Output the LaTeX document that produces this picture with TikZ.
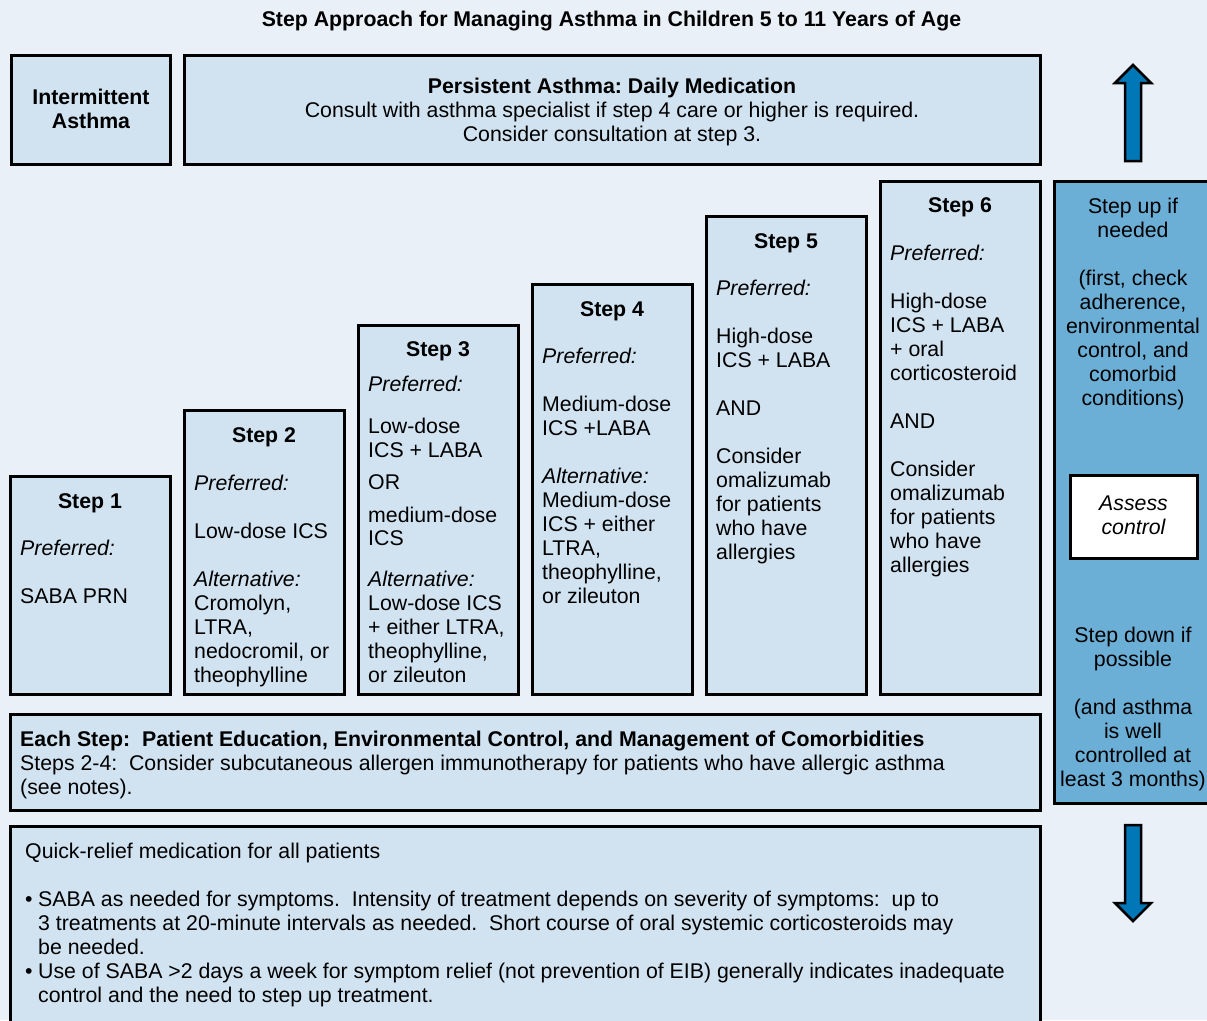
\documentclass[tikz,border=0pt]{standalone}
\usepackage{fontspec}
\setmainfont{Liberation Sans}
\frenchspacing

\definecolor{pagebg}{RGB}{233,240,248}
\definecolor{panelfill}{RGB}{209,227,241}
\definecolor{sidefill}{RGB}{107,174,214}
\definecolor{arrowfill}{RGB}{0,119,182}

% rectangle node from its corner coordinates: name, x1, y1, x2, y2, style
\newcommand\panel[6]{%
  \node[#6, minimum width={#4-#2}, minimum height={#5-#3}] (#1)
    at ({(#2+#4)/2},{(#3+#5)/2}) {};}
% left-aligned lines: name prefix, x, list of baseline/text
\newcommand\leftlines[3]{%
  \foreach \yy/\tx [count=\k] in {#3} {\node[txt] (#1\k) at (#2,\yy) {\tx};}}
% centred lines: name prefix, x, list of baseline/text
\newcommand\midlines[3]{%
  \foreach \yy/\tx [count=\k] in {#3} {\node[ctxt] (#1\k) at (#2,\yy) {\tx};}}

\begin{document}
\begin{tikzpicture}[x=1pt, y=-1pt,
  txt/.style={anchor=base west, inner sep=0pt, font=\fontsize{21.3}{24}\selectfont},
  ctxt/.style={txt, anchor=base},
  panelbox/.style={draw=black, line width=3pt, fill=panelfill, rectangle, inner sep=0pt},
  sidebox/.style={panelbox, fill=sidefill},
  assessbox/.style={panelbox, fill=white},
  bigarrow/.style={draw=black, line width=2.5pt, fill=arrowfill, line join=miter}]

\fill[pagebg] (0,0) rectangle (1207,1020);
\useasboundingbox (0,0) rectangle (1207,1020);
\clip (0,0) rectangle (1207,1020);

% title
\node[ctxt] (title) at (611.5,26) {\bfseries Step Approach for Managing Asthma in Children 5 to 11 Years of Age};

% header panels
\panel{inter}{11.5}{55.5}{170.5}{164.5}{panelbox}
\panel{pers}{184.5}{55.5}{1040}{164.5}{panelbox}
\midlines{intert}{91}{104/{\bfseries Intermittent}, 128/{\bfseries Asthma}}
\midlines{perst}{612}{93/{\bfseries Persistent Asthma: Daily Medication},
  117/{Consult with asthma specialist if step 4 care or higher is required.},
  141/{Consider consultation at step 3.}}

% the staircase of steps
\panel{s1}{10}{476.5}{170}{694.5}{panelbox}
\panel{s2}{184}{410.5}{344}{694.5}{panelbox}
\panel{s3}{358}{325.5}{518}{694.5}{panelbox}
\panel{s4}{532}{284.5}{692}{694.5}{panelbox}
\panel{s5}{706}{216.5}{866}{694.5}{panelbox}
\panel{s6}{880}{181.5}{1040}{694.5}{panelbox}

\node[ctxt] (s1h) at (90,508) {\bfseries Step 1};
\leftlines{s1t}{20}{555/{\itshape Preferred:}, 603/{SABA PRN}}

\node[ctxt] (s2h) at (264,442) {\bfseries Step 2};
\leftlines{s2t}{194}{490/{\itshape Preferred:}, 538/{Low-dose ICS},
  586/{\itshape Alternative:}, 610/{Cromolyn,}, 634/{LTRA,},
  658/{nedocromil, or}, 682/{theophylline}}

\node[ctxt] (s3h) at (438,356) {\bfseries Step 3};
\leftlines{s3t}{368}{391/{\itshape Preferred:}, 433/{Low-dose}, 457/{ICS + LABA},
  489/{OR}, 522/{medium-dose}, 545/{ICS}, 586/{\itshape Alternative:},
  610/{Low-dose ICS}, 634/{+ either LTRA,}, 658/{theophylline,}, 682/{or zileuton}}

\node[ctxt] (s4h) at (612,316) {\bfseries Step 4};
\leftlines{s4t}{542}{363/{\itshape Preferred:}, 411/{Medium-dose}, 435/{ICS +LABA},
  483/{\itshape Alternative:}, 507/{Medium-dose}, 531/{ICS + either},
  555/{LTRA,}, 579/{theophylline,}, 603/{or zileuton}}

\node[ctxt] (s5h) at (786,248) {\bfseries Step 5};
\leftlines{s5t}{716}{295/{\itshape Preferred:}, 343/{High-dose}, 367/{ICS + LABA},
  415/{AND}, 463/{Consider}, 487/{omalizumab}, 511/{for patients},
  535/{who have}, 559/{allergies}}

\node[ctxt] (s6h) at (960,212) {\bfseries Step 6};
\leftlines{s6t}{890}{260/{\itshape Preferred:}, 308/{High-dose}, 332/{ICS + LABA},
  356/{+ oral}, 380/{corticosteroid}, 428/{AND}, 476/{Consider},
  500/{omalizumab}, 524/{for patients}, 548/{who have}, 572/{allergies}}

% step up / step down column
\panel{side}{1054}{181.5}{1215}{803.5}{sidebox}
\panel{assess}{1070}{475}{1197}{558}{assessbox}
\midlines{upt}{1133}{213/{Step up if}, 237/{needed}, 285/{(first, check},
  309/{adherence,}, 333/{environmental}, 357/{control, and}, 381/{comorbid},
  405/{conditions)}}
\midlines{asst}{1133.5}{510/{\itshape Assess}, 534/{\itshape control}}
\midlines{downt}{1133}{642/{Step down if}, 666/{possible}, 714/{(and asthma},
  738/{is well}, 762/{controlled at}, 786/{least 3 months)}}

% arrows above and below the column
\coordinate (uptip) at (1133,65);
\coordinate (downtip) at (1133,921);
\draw[bigarrow] (1125,161) -- (1141,161) -- (1141,83) -- (1151,83) -- (uptip)
  -- (1115,83) -- (1125,83) -- cycle;
\draw[bigarrow] (1125,825) -- (1141,825) -- (1141,903) -- (1151,903) -- (downtip)
  -- (1115,903) -- (1125,903) -- cycle;

% every-step panel
\panel{each}{10}{714.5}{1040}{810.5}{panelbox}
\leftlines{eacht}{20}{746/{\bfseries Each Step:~ Patient Education, Environmental Control, and Management of Comorbidities},
  770/{Steps 2-4:~ Consider subcutaneous allergen immunotherapy for patients who have allergic asthma},
  794/{(see notes).}}

% quick-relief panel
\panel{quick}{10}{826.5}{1040}{1035}{panelbox}
\node[txt] (quickh) at (25,858) {Quick-relief medication for all patients};
\node[txt] (bul1) at (25,906) {•};
\node[txt] (bul2) at (25,978) {•};
\leftlines{quickt}{38}{906/{SABA as needed for symptoms.~ Intensity of treatment depends on severity of symptoms:~ up to},
  930/{3 treatments at 20-minute intervals as needed.~ Short course of oral systemic corticosteroids may},
  954/{be needed.},
  978/{Use of SABA >2 days a week for symptom relief (not prevention of EIB) generally indicates inadequate},
  1002/{control and the need to step up treatment.}}

\end{tikzpicture}
\end{document}
